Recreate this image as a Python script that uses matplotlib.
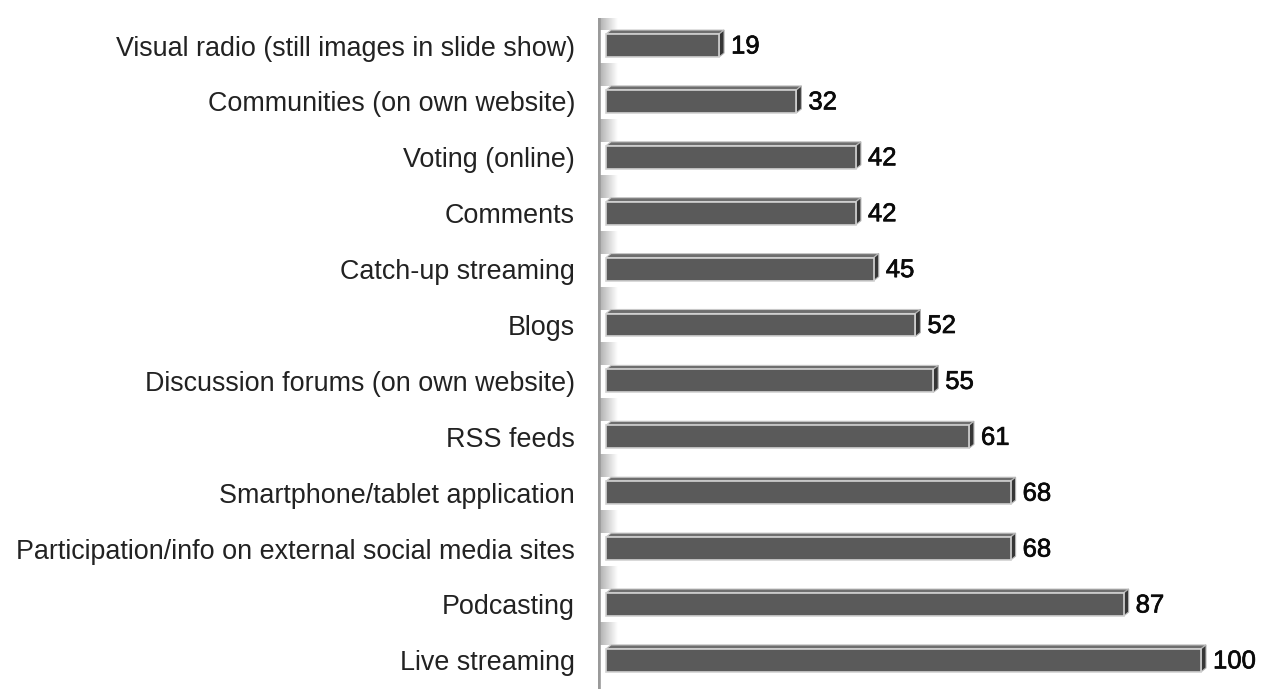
import matplotlib
matplotlib.use("Agg")
import matplotlib.pyplot as plt
import matplotlib.patheffects as pe
from matplotlib.patches import Polygon, Rectangle
import numpy as np

labels = ["Visual radio (still images in slide show)",
          "Communities (on own website)",
          "Voting (online)",
          "Comments",
          "Catch-up streaming",
          "Blogs",
          "Discussion forums (on own website)",
          "RSS feeds",
          "Smartphone/tablet application",
          "Participation/info on external social media sites",
          "Podcasting",
          "Live streaming"]
values = [19, 32, 42, 42, 45, 52, 55, 61, 68, 68, 87, 100]

plt.rcParams['font.family'] = ['Liberation Sans', 'DejaVu Sans']

W, H = 1265, 689
fig = plt.figure(figsize=(W / 100, H / 100), dpi=100)

# px per unit on x, px per row on y
sx = 5.95
sy = 55.9
x0_px = 606
wall_px = 598
y0_px = 45.5

ax = fig.add_axes([wall_px / W, 0, (W - wall_px) / W, 1])
ax.set_xlim((wall_px - x0_px) / sx, (W - x0_px) / sx)
ax.set_ylim((H - y0_px) / sy, -y0_px / sy)
for s in ax.spines.values():
    s.set_visible(False)
ax.set_xticks([])

half = 11.5 / sy   # half height of front face
dx = 5 / sx        # depth offset
dy = 4 / sy
wall_top = (18 - y0_px) / sy

# wall line and its shading between rows
ax.plot([(wall_px + 1.2 - x0_px) / sx] * 2, [(H - y0_px) / sy, wall_top],
        color="#9a9a9a", lw=2.6, solid_capstyle="butt", zorder=5)
grad = np.linspace(0.7, 1.0, 64).reshape(1, -1)
for i in range(len(values)):
    ytop = max(i - 1 + half + 6 / sy, wall_top)
    ybot = i - half - dy
    ax.imshow(grad, cmap="gray", vmin=0, vmax=1, aspect="auto",
              extent=[(wall_px + 2 - x0_px) / sx, (wall_px + 20 - x0_px) / sx, ybot, ytop],
              zorder=1, interpolation="bilinear")

for i, v in enumerate(values):
    t = i - half
    b = i + half
    # top face
    ax.add_patch(Polygon([(0, t), (v, t), (v + dx, t - dy), (dx, t - dy)],
                         closed=True, facecolor="#6e6e6e", edgecolor="#c8c8c8",
                         lw=0.8, zorder=3))
    # side face
    ax.add_patch(Polygon([(v, t), (v + dx, t - dy), (v + dx, b - dy), (v, b)],
                         closed=True, facecolor="#363636", edgecolor="#b5b5b5",
                         lw=0.8, zorder=3))
    # front face
    ax.add_patch(Rectangle((0, t), v, b - t, facecolor="#5a5a5a",
                           edgecolor="#d2d2d2", lw=1.2, zorder=4))
    ax.text(v + 12 / sx, i + 1 / sy, str(v), ha="left", va="center",
            fontsize=18.5, color="#0a0a0a", zorder=6,
            path_effects=[pe.withStroke(linewidth=0.5, foreground="#0a0a0a")])

ax.set_yticks(range(len(labels)))
ax.set_yticklabels(labels, fontsize=19.4, color="#222222")
ax.tick_params(axis="y", length=0, pad=16.5)

fig.savefig("out.png", dpi=100)
